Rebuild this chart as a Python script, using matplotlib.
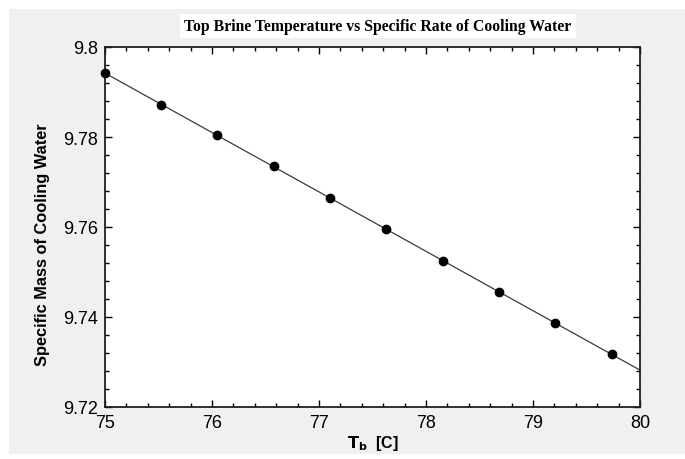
import matplotlib
matplotlib.use("Agg")
import matplotlib.pyplot as plt
from matplotlib.patches import Rectangle
from matplotlib.ticker import MultipleLocator

# data
tb_points = [75.0, 75.523, 76.044, 76.58, 77.10, 77.63, 78.16, 78.68, 79.21, 79.737]
mass_points = [9.7942, 9.7872, 9.7804, 9.7735, 9.7665, 9.7595, 9.7525, 9.7456, 9.7387, 9.7317]
tb_line = [75.0, 80.0]
mass_line = [9.7942, 9.7282]

x_ticks = [75, 76, 77, 78, 79, 80]
y_ticks = [9.72, 9.74, 9.76, 9.78, 9.80]
y_ticklabels = ["9.72", "9.74", "9.76", "9.78", "9.8"]

W, H = 685, 460
fig = plt.figure(figsize=(W / 100, H / 100), dpi=100, facecolor="white")

# grey panel behind the plot
fig.patches.append(Rectangle((9 / W, 5 / H), 1 - 9 / W, (450 - 5) / H,
                             transform=fig.transFigure, facecolor="#f0f0f0",
                             edgecolor="none", zorder=-10))

ax = fig.add_axes([105 / W, 1 - 408 / H, (640 - 105) / W, (408 - 48) / H])
ax.set_facecolor("white")

ax.plot(tb_line, mass_line, color="#3a3a3a", lw=0.9, zorder=2)
ax.plot(tb_points, mass_points, "o", color="black", ms=6, zorder=3, clip_on=False)

ax.set_xlim(75, 80)
ax.set_ylim(9.72, 9.80)
ax.set_xticks(x_ticks)
ax.set_xticklabels([str(t) for t in x_ticks])
ax.set_yticks(y_ticks)
ax.set_yticklabels(y_ticklabels)
ax.xaxis.set_minor_locator(MultipleLocator(0.2))
ax.yaxis.set_minor_locator(MultipleLocator(0.004))

ax.tick_params(which="both", direction="in", top=True, right=True,
               colors="black", labelsize=13)
ax.tick_params(which="major", length=5, width=1)
ax.tick_params(which="minor", length=3, width=1)
ax.tick_params(axis="x", pad=5)
ax.tick_params(axis="y", pad=5)
for lab in ax.get_xticklabels() + ax.get_yticklabels():
    lab.set_family("Liberation Sans")
for sp in ax.spines.values():
    sp.set_linewidth(1.3)
    sp.set_color("#202020")

ax.set_ylabel("Specific Mass of Cooling Water", family="Liberation Sans",
              fontweight="bold", fontsize=11.8)
ax.yaxis.set_label_coords(-(105 - 50) / (640 - 105), 0.453)
ax.set_xlabel(r"$\mathbf{T_b}$  [C]", family="Liberation Sans",
              fontweight="bold", fontsize=11.5)
ax.xaxis.set_label_coords(0.5, -(434 - 408) / (408 - 48))

fig.text(378 / W, 1 - 27 / H, "Top Brine Temperature vs Specific Rate of Cooling Water",
         ha="center", va="center", family="Liberation Serif", fontweight="bold",
         fontsize=11.3, bbox=dict(facecolor="white", edgecolor="none", pad=3))

fig.savefig("out.png", dpi=100, facecolor="white")
